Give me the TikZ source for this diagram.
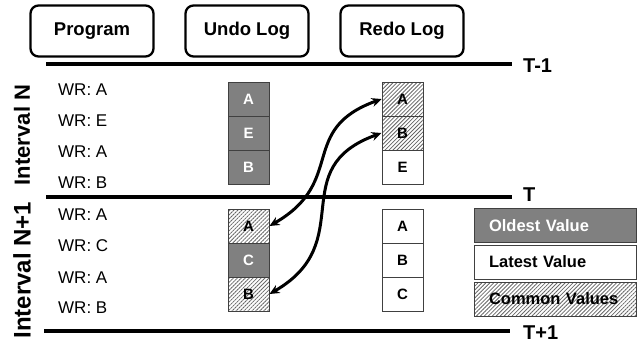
\documentclass[tikz,border=0pt]{standalone}
\usepackage{fontspec}
\setmainfont{Liberation Sans}
\usetikzlibrary{arrows.meta}
\usetikzlibrary{patterns.meta}

\definecolor{oldgray}{gray}{0.5}
\definecolor{hatchgray}{gray}{0.4}
\definecolor{celledge}{gray}{0.25}

\begin{document}
\begin{tikzpicture}[
            x=1pt, y=1pt,
            head box/.style={draw,line width=2.3pt,rounded corners=8pt,minimum width=123pt,minimum height=51pt,font=\fontsize{18.5}{22}\selectfont\bfseries},
            op/.style={anchor=west,inner sep=0pt,font=\fontsize{17}{20}\selectfont},
            cell/.style={draw=celledge,line width=1pt,minimum width=41pt,minimum height=34pt,font=\fontsize{15}{18}\selectfont\bfseries},
            old/.style={fill=oldgray,text=white},
            common/.style={pattern={Lines[angle=45,distance=2.8pt,line width=0.8pt]},pattern color=hatchgray},
            time line/.style={line width=4pt},
            time label/.style={anchor=west,inner sep=0pt,font=\fontsize{20}{24}\selectfont\bfseries},
            interval/.style={rotate=90,inner sep=0pt,font=\fontsize{22}{26}\selectfont\bfseries},
            key/.style={draw=celledge,line width=1pt,minimum height=34pt,text width=132pt,inner xsep=15pt,font=\fontsize{16.5}{20}\selectfont\bfseries},
            link/.style={line width=3pt,{Stealth[length=10pt,width=9pt]}-{Stealth[length=10pt,width=9pt]}},
            ]
            
            \useasboundingbox (0,0) rectangle (637,-349);
            
            \node[head box] (prog) at (92,-31) {Program};
            \node[head box] (undo) at (247,-31) {Undo Log};
            \node[head box] (redo) at (402,-31) {Redo Log};
            
            \coordinate (tm1a) at (46,-64);
            \coordinate (tm1b) at (512,-64);
            \coordinate (t0a) at (46,-197);
            \coordinate (t0b) at (512,-197);
            \coordinate (tp1a) at (44,-331);
            \coordinate (tp1b) at (510,-331);
            \draw[time line] (tm1a) -- (tm1b);
            \draw[time line] (t0a) -- (t0b);
            \draw[time line] (tp1a) -- (tp1b);
            \node[time label] (tm1) at (523,-65.5) {T-1};
            \node[time label] (t0) at (523,-195) {T};
            \node[time label] (tp1) at (523,-332.5) {T+1};
            
            \node[interval] (intn) at (22,-135) {Interval N};
            \node[interval, font=\fontsize{24}{28}\selectfont\bfseries] (intn1) at (22,-270) {Interval N+1};
            
            \node[op] (w1) at (58,-90) {WR: A};
            \node[op] (w2) at (58,-121) {WR: E};
            \node[op] (w3) at (58,-152) {WR: A};
            \node[op] (w4) at (58,-183) {WR: B};
            \node[op] (w5) at (58,-215) {WR: A};
            \node[op] (w6) at (58,-246) {WR: C};
            \node[op] (w7) at (58,-278) {WR: A};
            \node[op] (w8) at (58,-308) {WR: B};
            
            \node[cell, old] (ua1) at (248.5,-99) {A};
            \node[cell, old] (ue) at (248.5,-133) {E};
            \node[cell, old] (ub1) at (248.5,-167) {B};
            \node[cell, common] (ra1) at (402.5,-99) {A};
            \node[cell, common] (rb1) at (402.5,-133) {B};
            \node[cell] (re) at (402.5,-167) {E};
            
            \node[cell, common] (ua2) at (248.5,-226) {A};
            \node[cell, old] (uc) at (248.5,-260) {C};
            \node[cell, common] (ub2) at (248.5,-294) {B};
            \node[cell] (ra2) at (402.5,-226) {A};
            \node[cell] (rb2) at (402.5,-260) {B};
            \node[cell] (rc) at (402.5,-294) {C};
            
            \node[key, old] (kold) at (555,-225.5) {Oldest Value};
            \node[key] (klate) at (555,-262) {Latest Value};
            \node[key, common] (kcom) at (555,-299) {Common Values};
            
            \draw[link] (ua2.east) to[out=30,in=200,looseness=1.35] (ra1.west);
            \draw[link] (ub2.east) to[out=30,in=200,looseness=1.35] (rb1.west);
        \end{tikzpicture}
\end{document}
